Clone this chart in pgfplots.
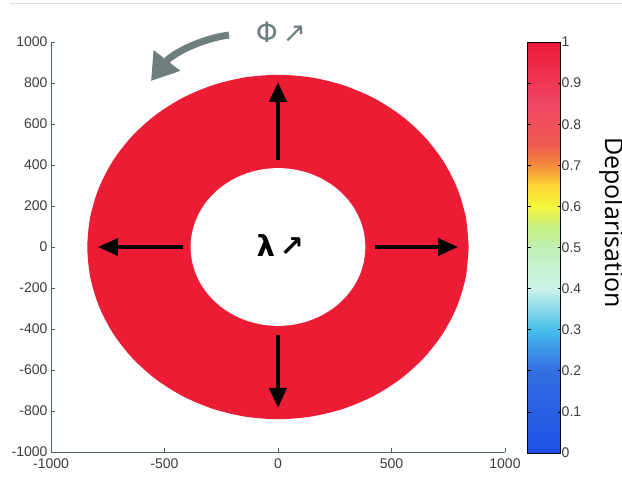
\documentclass[border=0pt]{standalone}
\usepackage{pgfplots}
\pgfplotsset{compat=1.18}
\usepackage{fontspec}
\setmainfont{Liberation Sans}
\newfontfamily\dejavu{DejaVu Sans}
\newfontfamily\opensans{Open Sans}
\usetikzlibrary{arrows.meta}
\definecolor{ringred}{RGB}{236,28,52}
\definecolor{axisgray}{RGB}{80,100,100}
\definecolor{ticktext}{RGB}{60,60,60}
\definecolor{phigray}{RGB}{112,126,128}
\begin{document}
\begin{tikzpicture}[x=1pt,y=1pt]
\begin{axis}[
  at={(51pt,32pt)}, anchor=south west,
  scale only axis, width=454pt, height=410pt,
  xmin=-1000, xmax=1000, ymin=-1000, ymax=1000,
  axis x line*=bottom, axis y line*=left,
  axis line style={draw=axisgray, line width=0.8pt},
  tick style={draw=axisgray, line width=0.6pt},
  major tick length=4pt,
  tick align=inside,
  xtick={-1000,-500,0,500,1000},
  ytick={-1000,-800,-600,-400,-200,0,200,400,600,800,1000},
  tick label style={font=\fontsize{14}{15}\selectfont, text=ticktext},
  xticklabel style={yshift=-3pt},
  /pgf/number format/assume math mode=true,
  /pgf/number format/1000 sep={},
  colormap={depol}{rgb255(0)=(30,80,230) rgb255(20)=(50,110,225) rgb255(30)=(70,190,235) rgb255(40)=(205,242,232) rgb255(50)=(190,240,180) rgb255(55)=(200,240,130) rgb255(60)=(245,245,60) rgb255(65)=(250,215,50) rgb255(70)=(245,140,60) rgb255(75)=(240,90,80) rgb255(85)=(240,70,100) rgb255(100)=(235,25,55)},
  colorbar,
  colorbar/width=33pt,
  point meta min=0, point meta max=1,
  colorbar style={
    scale only axis,
    at={(parent axis.north east)}, anchor=north west, xshift=14pt,
    width=33pt, height=411pt,
    ytick={0,0.1,0.2,0.3,0.4,0.5,0.6,0.7,0.8,0.9,1},
    yticklabel pos=right,
    tick pos=both, tick align=inside,
    major tick length=3pt,
    tick style={draw=black, line width=0.6pt},
    axis line style={draw=black, line width=0.8pt},
    yticklabel style={font=\fontsize{14}{15}\selectfont, text=ticktext, inner sep=1pt},
    /pgf/number format/assume math mode=true,
    /pgf/number format/fixed,
  },
]
% outer disc of the ring
\addplot[fill=ringred, draw=none, smooth] coordinates {
(840,0) (827.2,145.9) (789.3,287.3) (727.5,420) (643.5,539.9) (539.9,643.5) (420,727.5) (287.3,789.3) (145.9,827.2) (0,840)
(-145.9,827.2) (-287.3,789.3) (-420,727.5) (-539.9,643.5) (-643.5,539.9) (-727.5,420) (-789.3,287.3) (-827.2,145.9) (-840,0)
(-827.2,-145.9) (-789.3,-287.3) (-727.5,-420) (-643.5,-539.9) (-539.9,-643.5) (-420,-727.5) (-287.3,-789.3) (-145.9,-827.2) (0,-840)
(145.9,-827.2) (287.3,-789.3) (420,-727.5) (539.9,-643.5) (643.5,-539.9) (727.5,-420) (789.3,-287.3) (827.2,-145.9) (840,0)
};
% inner hole
\addplot[fill=white, draw=none, smooth] coordinates {
(385,0) (379.1,66.9) (361.8,131.7) (333.4,192.5) (294.9,247.5) (247.5,294.9) (192.5,333.4) (131.7,361.8) (66.9,379.1) (0,385)
(-66.9,379.1) (-131.7,361.8) (-192.5,333.4) (-247.5,294.9) (-294.9,247.5) (-333.4,192.5) (-361.8,131.7) (-379.1,66.9) (-385,0)
(-379.1,-66.9) (-361.8,-131.7) (-333.4,-192.5) (-294.9,-247.5) (-247.5,-294.9) (-192.5,-333.4) (-131.7,-361.8) (-66.9,-379.1) (0,-385)
(66.9,-379.1) (131.7,-361.8) (192.5,-333.4) (247.5,-294.9) (294.9,-247.5) (333.4,-192.5) (361.8,-131.7) (379.1,-66.9) (385,0)
};
% radial arrows
\addplot[black, line width=4pt, -{Triangle[length=20pt,width=17pt]}] coordinates {(0,424) (0,805)};
\addplot[black, line width=4pt, -{Triangle[length=20pt,width=17pt]}] coordinates {(0,-429) (0,-785)};
\addplot[black, line width=4pt, -{Triangle[length=20pt,width=17pt]}] coordinates {(-418,0) (-793,0)};
\addplot[black, line width=4pt, -{Triangle[length=20pt,width=17pt]}] coordinates {(427,0) (793,0)};
\node[font=\dejavu\bfseries\fontsize{29}{30}\selectfont, inner sep=0pt] at (axis cs:10,5) {λ\,↗};
\end{axis}
% rotation annotation
\node[font=\dejavu\fontsize{28}{30}\selectfont, text=phigray, inner sep=0pt] at (281pt,452pt) {Φ\,↗};
\draw[phigray, line width=7pt, -{Triangle[length=26pt,width=32pt]}] (229,449) .. controls (200,445) and (172,430) .. (151,403);
% colorbar label
\node[rotate=-90, anchor=base west, font=\opensans\fontsize{25}{28}\selectfont, inner sep=0pt] at (605pt,347pt) {Depolarisation};
% faint top rule
\draw[gray!25, line width=0.8pt] (10,481) -- (622,481);
\pgfresetboundingbox
\useasboundingbox (0,0) rectangle (622,484);
\end{tikzpicture}
\end{document}
